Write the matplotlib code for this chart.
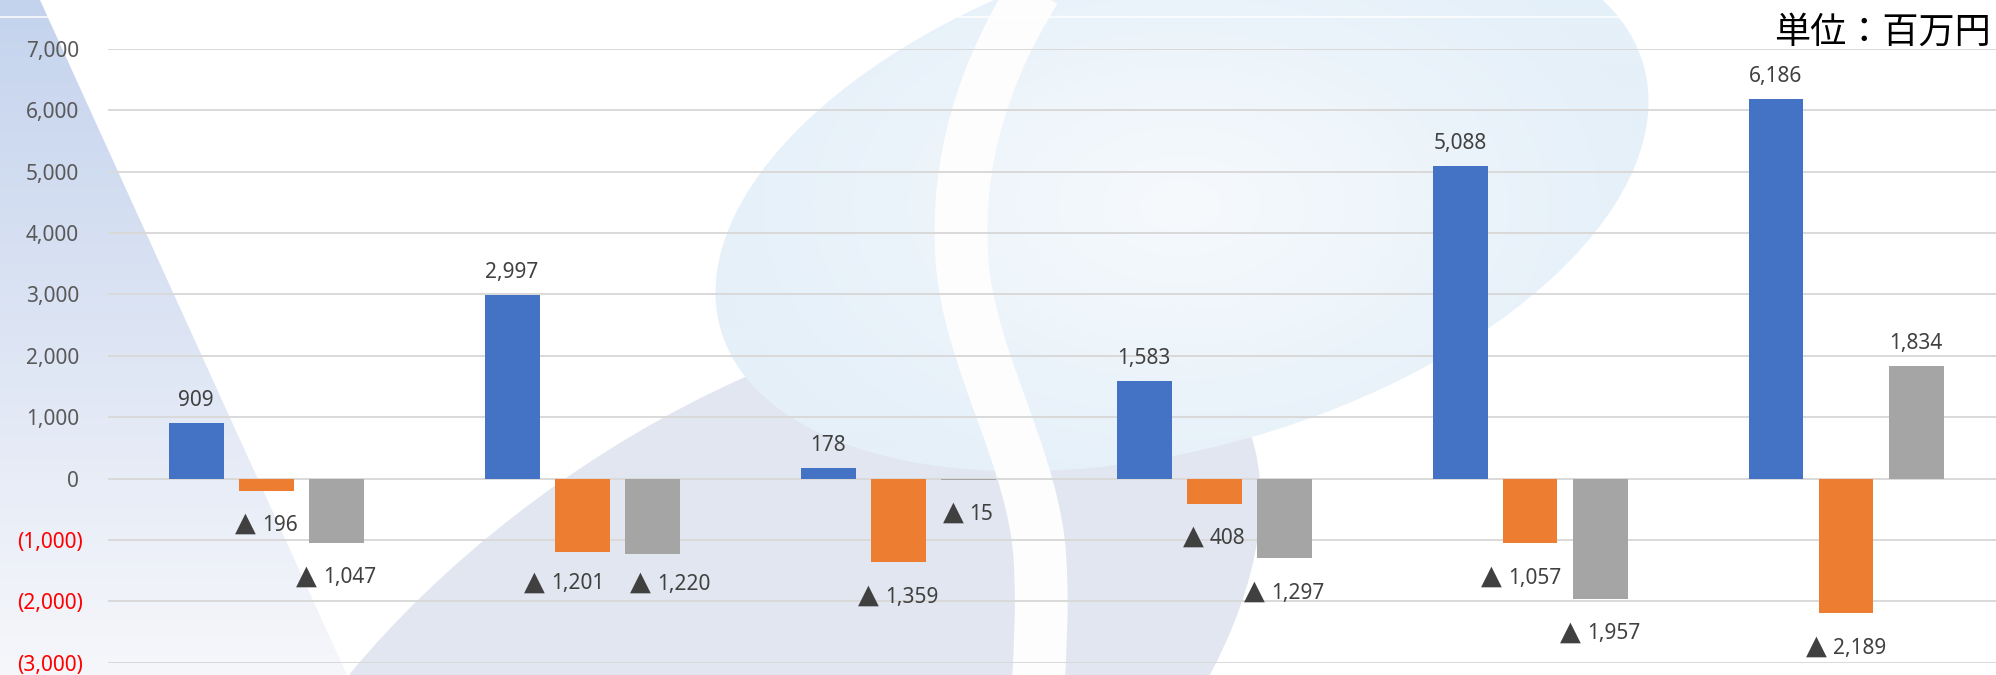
import numpy as np
import matplotlib
matplotlib.use('Agg')
import matplotlib.pyplot as plt
from matplotlib.patches import Ellipse, Polygon, PathPatch
from matplotlib.path import Path
from matplotlib.transforms import ScaledTranslation
from matplotlib.offsetbox import TextArea, HPacker, AnnotationBbox

# ---------------- data ----------------
categories = ['1', '2', '3', '4', '5', '6']
series_a = [909, 2997, 178, 1583, 5088, 6186]          # blue
series_b = [-196, -1201, -1359, -408, -1057, -2189]    # orange
series_c = [-1047, -1220, -15, -1297, -1957, 1834]     # gray
yticks = [-3000, -2000, -1000, 0, 1000, 2000, 3000, 4000, 5000, 6000, 7000]
unit_label = '単位：百万円'
neg_mark = '▲'

colors = ['#4472c4', '#ed7d31', '#a5a5a5']

# manual label nudges (pixels) as in the original layout: (series, index) -> (dx, dy)
label_nudge = {(1, 1): (-18, 3.5), (2, 1): (18, 4.5), (1, 4): (-9, 0)}

W, H = 1996, 675
fig = plt.figure(figsize=(W / 100, H / 100), dpi=100)
fig.patch.set_facecolor('white')

# ---------------- decorative background ----------------
bg = fig.add_axes([0, 0, 1, 1], zorder=0)
bg.axis('off')

# left gradient triangle
g = np.linspace(0, 1, 256)[:, None, None]
top_c = np.array([196, 211, 237]) / 255
bot_c = np.array([246, 247, 251]) / 255
tri_img = top_c + (bot_c - top_c) * g
im1 = bg.imshow(tri_img, extent=(0, 360, H, 0), aspect='auto', zorder=1,
                interpolation='bilinear')
tri = Polygon([(0, 0), (40, 0), (347, H), (0, H)], closed=True,
              facecolor='none', edgecolor='none')
bg.add_patch(tri)
im1.set_clip_path(tri)

# large gray-blue ellipse
bg.add_patch(Ellipse((738, 736), 1200, 620, angle=-35, facecolor='#e1e6f0',
                     edgecolor='none', zorder=2))

# light-blue ellipse with radial gradient
yy, xx = np.mgrid[0:H:2, 0:W:2]
r = np.clip(np.hypot((xx - 1180) / 470.0, (yy - 205) / 300.0), 0, 1)
c_in = np.array([247, 250, 253]) / 255
c_out = np.array([229, 240, 249]) / 255
img2 = c_in + (c_out - c_in) * (r[..., None] ** 0.9)
im2 = bg.imshow(img2, extent=(0, W, H, 0), aspect='auto', zorder=3,
                interpolation='bilinear')
ell = Ellipse((1182, 197), 960, 500, angle=-16, facecolor='none', edgecolor='none')
bg.add_patch(ell)
im2.set_clip_path(ell)

# white curved band
verts = [(1035, -10), (985, 70), (955, 160), (962, 260),
         (969, 360), (1035, 460), (1040, 560),
         (1043, 610), (1040, 650), (1038, 690)]
codes = [Path.MOVETO] + [Path.CURVE4] * 9
bg.add_patch(PathPatch(Path(verts, codes), facecolor='none', edgecolor='#fdfdfe',
                       lw=38, capstyle='butt', zorder=4))

# faint white horizontal line near top
bg.plot([0, W], [16.5, 16.5], color='white', lw=1.2, alpha=0.9, zorder=5)

bg.set_xlim(0, W)
bg.set_ylim(H, 0)

# unit label
bg.text(1991, 42.5, unit_label, ha='right', va='baseline', fontsize=26,
        family=['Noto Sans CJK JP', 'DejaVu Sans'], color='#000000', zorder=6)

# ---------------- main chart ----------------
y_top_px, y_bot_px = 48.8, 662.8
ax = fig.add_axes([108 / W, (H - y_bot_px) / H, 1888 / W, (y_bot_px - y_top_px) / H],
                  zorder=2)
ax.patch.set_alpha(0)

group_px = 316.0
x = np.arange(len(categories))
bw = 55 / group_px
off = 70 / group_px

all_series = [(x - off, series_a), (x, series_b), (x + off, series_c)]
for (xs, vals), c in zip(all_series, colors):
    ax.bar(xs, vals, bw, color=c, zorder=3)

ax.set_xlim(-0.5, -0.5 + 1888 / group_px)
ax.set_ylim(-3000, 7000)
ax.set_yticks(yticks)
ax.set_xticks([])
ax.yaxis.grid(True, color='#d9d9d9', lw=1.4)
ax.set_axisbelow(True)
for s in ax.spines.values():
    s.set_visible(False)

ax.tick_params(axis='y', length=0, pad=29 * 0.72, labelsize=15, labelcolor='#595959')
ax.set_yticklabels([f'{v:,}' if v >= 0 else f'({-v:,})' for v in yticks],
                   family='Noto Sans')
for lab, v in zip(ax.get_yticklabels(), yticks):
    if v < 0:
        lab.set_color('#ff0000')
        lab.set_transform(lab.get_transform() +
                          ScaledTranslation(4 / 100, 0, fig.dpi_scale_trans))

lab_color = '#404040'
for si, (xs, vals) in enumerate(all_series):
    for i, (xi, v) in enumerate(zip(xs, vals)):
        ndx, ndy = label_nudge.get((si, i), (0, 0))
        if v >= 0:
            ax.annotate(f'{v:,}', (xi, v), xytext=(ndx * 0.72, (17 + ndy) * 0.72),
                        textcoords='offset points', ha='center', va='baseline',
                        fontsize=15, color=lab_color, family='Noto Sans', zorder=5)
        else:
            tri_ta = TextArea(neg_mark, textprops=dict(fontsize=19.5, color=lab_color,
                                                       family='DejaVu Sans'))
            num_ta = TextArea(f'{-v:,}', textprops=dict(fontsize=15, color=lab_color,
                                                        family='Noto Sans'))
            box = HPacker(children=[tri_ta, num_ta], align='baseline', pad=0, sep=4.5)
            ab = AnnotationBbox(box, (xi, v), xybox=(ndx * 0.72, (-33.5 + ndy) * 0.72),
                                xycoords='data', boxcoords='offset points',
                                box_alignment=(0.5, 0.5), frameon=False, pad=0,
                                zorder=5)
            ax.add_artist(ab)

fig.savefig('out.png', dpi=100)
